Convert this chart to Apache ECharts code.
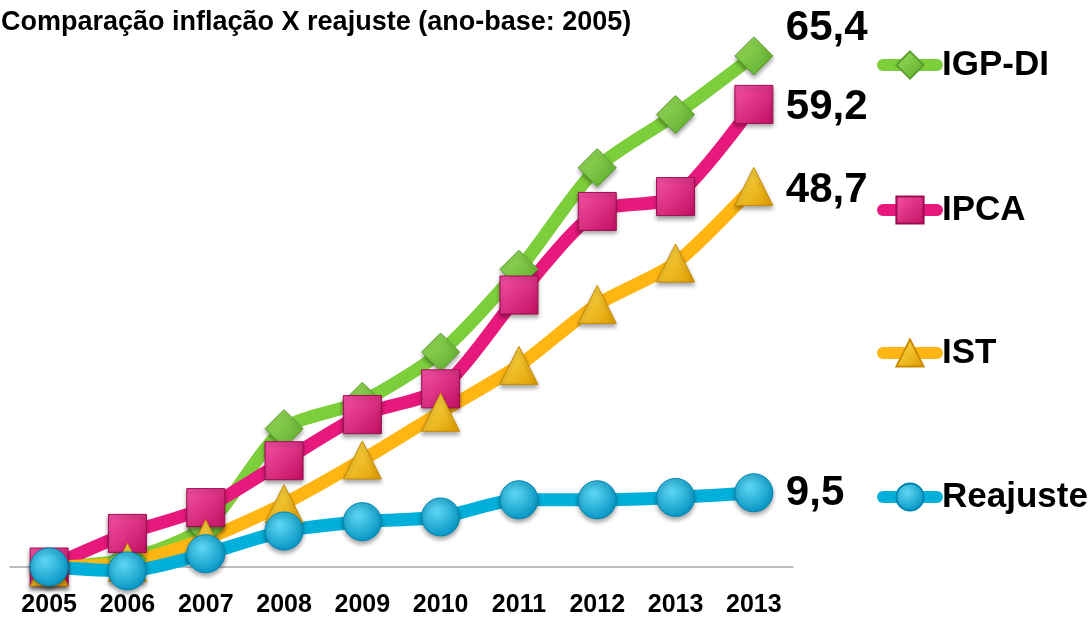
<!DOCTYPE html>
<html>
<head>
<meta charset="utf-8">
<script src="https://cdn.jsdelivr.net/npm/echarts@6/dist/echarts.min.js"></script>
<style>
  html, body { margin: 0; padding: 0; background: #fff; }
  #main { width: 1092px; height: 618px; }
</style>
</head>
<body>
<div id="main"></div>
<script>
// categorias (o último ano aparece repetido no original)
var anos = ['2005', '2006', '2007', '2008', '2009', '2010', '2011', '2012', '2013', '2013'];

// índices acumulados (%)
var igpdi    = [0, 1.0, 5.2, 17.7, 21.2, 27.5, 38.1, 51.1, 57.9, 65.4];
var ipca     = [0, 4.3, 7.6, 13.6, 19.5, 22.8, 34.8, 45.5, 47.4, 59.2];
var ist      = [0, 0.6, 3.6, 8.1, 13.7, 19.8, 25.8, 33.6, 38.9, 48.7];
var reajuste = [0, -0.5, 1.7, 4.6, 5.8, 6.4, 8.6, 8.6, 8.9, 9.5];

var fonte = 'Liberation Sans, Arial, sans-serif';

function grad(c1, c2) {
    return new echarts.graphic.LinearGradient(0, 0, 1, 1, [
        {offset: 0, color: c1},
        {offset: 1, color: c2}
    ]);
}

function serie(nome, dados, cor, simbolo, preenchimento, borda, offsetY) {
    return {
        name: nome,
        type: 'line',
        data: dados,
        smooth: 0.25,
        clip: false,
        symbol: simbolo,
        symbolSize: 38,
        lineStyle: {color: cor, width: 13},
        itemStyle: {
            color: preenchimento,
            borderColor: borda,
            borderWidth: 1,
            shadowColor: 'rgba(0,0,0,0.35)',
            shadowBlur: 4,
            shadowOffsetY: 3
        },
        endLabel: {
            show: true,
            distance: 32,
            offset: [0, offsetY],
            color: '#000',
            fontFamily: fonte,
            fontWeight: 'bold',
            fontSize: 42,
            formatter: function (p) {
                return p.value.toFixed(1).replace('.', ',');
            }
        }
    };
}

function legenda(nome, topo) {
    return {
        data: [nome],
        left: 877,
        top: topo,
        padding: 0,
        itemWidth: 54,
        itemHeight: 34,
        itemGap: 0,
        lineStyle: {width: 12, cap: 'round'},
        textStyle: {
            color: '#000',
            fontFamily: fonte,
            fontWeight: 'bold',
            fontSize: 35,
            lineHeight: 40
        }
    };
}

var myChart = echarts.init(document.getElementById('main'));
var option = {
    animation: false,
    backgroundColor: '#fff',
    title: {
        text: 'Comparação inflação X reajuste (ano-base: 2005)',
        left: -4,
        top: 4,
        textStyle: {
            color: '#000',
            fontFamily: fonte,
            fontWeight: 'bold',
            fontSize: 27
        }
    },
    legend: [
        legenda('IGP-DI', 45),
        legenda('IPCA', 190),
        legenda('IST', 333),
        legenda('Reajuste', 477)
    ],
    grid: {left: 10, right: 299, top: 20, bottom: 50},
    xAxis: {
        type: 'category',
        data: anos,
        axisLine: {lineStyle: {color: '#a6a6a6', width: 1.5}},
        axisTick: {show: false},
        axisLabel: {
            color: '#000',
            fontFamily: fonte,
            fontWeight: 'bold',
            fontSize: 25,
            margin: 26
        }
    },
    yAxis: {
        type: 'value',
        min: 0,
        max: 70,
        show: false,
        splitLine: {show: false}
    },
    series: [
        serie('IGP-DI', igpdi, '#7dce3b', 'diamond', grad('#9ee060', '#5aa82a'), '#5a9e2c', -28),
        serie('IPCA', ipca, '#e8197d', 'rect', grad('#f652a5', '#c10f62'), '#9e0c4f', 3),
        serie('IST', ist, '#ffb612', 'triangle', grad('#ffe052', '#e09c00'), '#c98a00', 4),
        serie('Reajuste', reajuste, '#00b0da',  'circle',
            new echarts.graphic.RadialGradient(0.4, 0.35, 0.7, [
                {offset: 0, color: '#5fd6f2'},
                {offset: 1, color: '#0092c2'}
            ]), '#0086b3', 1)
    ]
};
myChart.setOption(option);
window.onresize = myChart.resize;
</script>
</body>
</html>
